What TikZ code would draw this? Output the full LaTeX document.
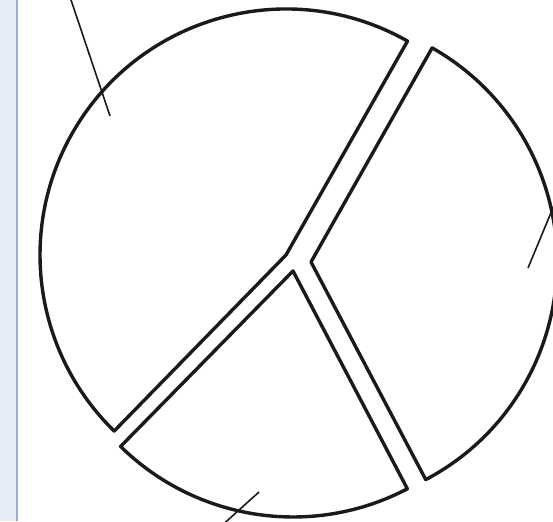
\documentclass[tikz,border=0pt]{standalone}
\definecolor{bordo}{HTML}{1A1A1A}
\definecolor{fascia}{HTML}{E6EDF6}
\definecolor{fasciabordo}{HTML}{93B0DC}
\begin{document}
\begin{tikzpicture}[
			x=1pt, y=1pt,
			slice/.style={line width=3.4pt, draw=bordo, line join=round, fill=white},
			leader/.style={line width=1.6pt, draw=bordo}
		]

		% Cornice
		\useasboundingbox (0,0) rectangle (553,521);
		\clip (0,0) rectangle (553,521);

		% Fascia laterale
		\fill[fascia] (0,0) rectangle (17,521);
		\draw[fasciabordo, line width=2.5pt] (17,0) -- (17,521);

		% Spicchi della torta
		\coordinate (cGrande) at (286,266);
		\coordinate (cDestra) at (311,259);
		\coordinate (cBasso) at (293,250);

		\draw[slice] (cGrande) -- ++(60.4:246) arc[start angle=60.4, end angle=225.7, radius=246] -- cycle;
		\draw[slice] (cDestra) -- ++(-62.2:246) arc[start angle=-62.2, end angle=60.5, radius=246] -- cycle;
		\draw[slice] (cBasso) -- ++(225.5:246) arc[start angle=225.5, end angle=297.7, radius=246] -- cycle;

		% Linee di richiamo
		\coordinate (puntoA) at (110,405);
		\coordinate (etichettaA) at (68,530);
		\coordinate (puntoB) at (528,253);
		\coordinate (etichettaB) at (560,330);
		\coordinate (puntoC) at (259,29);
		\coordinate (etichettaC) at (218,-8);

		\draw[leader] (puntoA) -- (etichettaA);
		\draw[leader] (puntoB) -- (etichettaB);
		\draw[leader] (puntoC) -- (etichettaC);

	\end{tikzpicture}
\end{document}
